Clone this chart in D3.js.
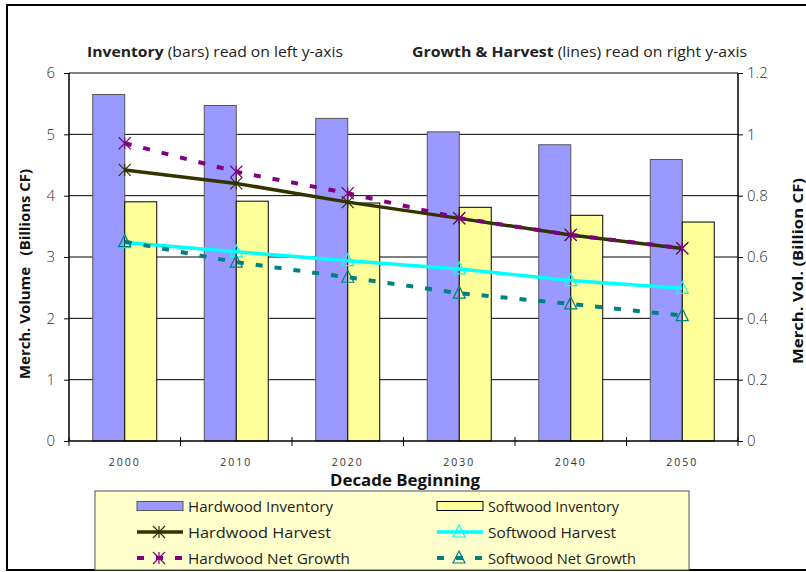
<!DOCTYPE html>
<html>
<head>
<meta charset="utf-8">
<script src="https://cdnjs.cloudflare.com/ajax/libs/d3/7.8.5/d3.min.js"></script>
<style>
  body { margin: 0; background: #fff; }
  svg text { font-family: "Open Sans", "DejaVu Sans", sans-serif; white-space: pre; }
</style>
</head>
<body>
<svg id="chart" width="806" height="572"></svg>
<script>
// decades on the x axis
var decades = ["2000", "2010", "2020", "2030", "2040", "2050"];

// inventory, left axis (billions CF)
var hardwoodInventory = [5.65, 5.47, 5.26, 5.04, 4.83, 4.59];
var softwoodInventory = [3.90, 3.91, 3.88, 3.81, 3.68, 3.57];

// growth & harvest, right axis (billion CF)
var hardwoodHarvest   = [0.884, 0.840, 0.779, 0.726, 0.672, 0.628];
var hardwoodGrowth    = [0.971, 0.878, 0.808, 0.727, 0.672, 0.629];
var softwoodHarvest   = [0.647, 0.617, 0.588, 0.561, 0.523, 0.498];
var softwoodGrowth    = [0.650, 0.583, 0.534, 0.482, 0.447, 0.409];

var leftTicks  = [0, 1, 2, 3, 4, 5, 6];
var rightTicks = [0, 0.2, 0.4, 0.6, 0.8, 1, 1.2];

var svg = d3.select("#chart");

// outer frame
svg.append("rect")
  .attr("x", 7).attr("y", 5)
  .attr("width", 820).attr("height", 565)
  .attr("fill", "none").attr("stroke", "#000").attr("stroke-width", 2);

// plot box (note: "top" is reserved on window, so prefix these)
var pLeft = 69, pRight = 738, pTop = 73, pBottom = 441;

var x = d3.scaleBand().domain(decades).range([pLeft, pRight]).padding(0);
var xSub = d3.scaleBand().domain(["hw", "sw"]).range([-32, 32]);
var yL = d3.scaleLinear().domain([0, 6]).range([pBottom, pTop]);
var yR = d3.scaleLinear().domain([0, 1.2]).range([pBottom, pTop]);

// gridlines
svg.append("g").selectAll("line")
  .data(leftTicks.slice(1))
  .enter().append("line")
  .attr("x1", pLeft).attr("x2", pRight)
  .attr("y1", d => yL(d)).attr("y2", d => yL(d))
  .attr("stroke", "#000").attr("stroke-width", 1);

// bars
var bars = svg.append("g");
bars.selectAll(".hw")
  .data(hardwoodInventory)
  .enter().append("rect")
  .attr("x", (d, i) => x(decades[i]) + x.bandwidth() / 2 + xSub("hw"))
  .attr("width", xSub.bandwidth())
  .attr("y", d => yL(d))
  .attr("height", d => pBottom - yL(d))
  .attr("fill", "#9999FF").attr("stroke", "#555").attr("stroke-width", 1);
bars.selectAll(".sw")
  .data(softwoodInventory)
  .enter().append("rect")
  .attr("x", (d, i) => x(decades[i]) + x.bandwidth() / 2 + xSub("sw"))
  .attr("width", xSub.bandwidth())
  .attr("y", d => yL(d))
  .attr("height", d => pBottom - yL(d))
  .attr("fill", "#FFFF99").attr("stroke", "#000").attr("stroke-width", 1);

// left axis
var axL = svg.append("g").attr("transform", "translate(" + pLeft + ",0)")
  .call(d3.axisLeft(yL).tickValues(leftTicks).tickSize(5).tickPadding(9)
        .tickFormat(d3.format("~g")));
// right axis
var axR = svg.append("g").attr("transform", "translate(" + pRight + ",0)")
  .call(d3.axisRight(yR).tickValues(rightTicks).tickSize(5).tickPadding(4)
        .tickFormat(d3.format("~g")));
[axL, axR].forEach(function(ax) {
  ax.select(".domain").attr("stroke", "#000").attr("stroke-width", 1.5)
    .attr("d", "M0," + pTop + "V" + pBottom);
  ax.selectAll("text").attr("font-size", 15).attr("font-weight", 300).attr("fill", "#333");
});

// x axis
var xAx = svg.append("g");
xAx.append("line")
  .attr("x1", pLeft).attr("x2", pRight).attr("y1", pBottom).attr("y2", pBottom)
  .attr("stroke", "#000").attr("stroke-width", 1.5);
var boundaries = decades.map(d => x(d)).concat([pRight]);
xAx.selectAll(".tk")
  .data(boundaries)
  .enter().append("line")
  .attr("x1", d => d).attr("x2", d => d)
  .attr("y1", pBottom - 4).attr("y2", pBottom + 5)
  .attr("stroke", "#000");
xAx.selectAll(".lbl")
  .data(decades)
  .enter().append("text")
  .attr("x", d => x(d) + x.bandwidth() / 2)
  .attr("y", 466)
  .attr("text-anchor", "middle")
  .attr("font-size", 10.5)
  .attr("letter-spacing", 2)
  .attr("fill", "#333")
  .text(d => d);

// lines
function cx(i) { return x(decades[i]) + x.bandwidth() / 2; }

function drawMarker(g, px, py, color, marker) {
  var s = 6;
  if (marker === "star") {
    g.append("path")
      .attr("d", "M" + (px - s) + "," + (py - s) + "L" + (px + s) + "," + (py + s) +
                 "M" + (px - s) + "," + (py + s) + "L" + (px + s) + "," + (py - s) +
                 "M" + px + "," + (py - s) + "L" + px + "," + (py + s))
      .attr("stroke", color).attr("stroke-width", 1.2).attr("fill", "none");
  } else {
    g.append("path")
      .attr("d", "M" + px + "," + (py - s - 1) + "L" + (px + s) + "," + (py + s - 1) +
                 "L" + (px - s) + "," + (py + s - 1) + "Z")
      .attr("stroke", color).attr("stroke-width", 1.2).attr("fill", "none");
  }
}

function drawSeries(values, color, width, dash, marker) {
  var line = d3.line().x((d, i) => cx(i)).y(d => yR(d));
  svg.append("path")
    .datum(values)
    .attr("d", line)
    .attr("fill", "none")
    .attr("stroke", color)
    .attr("stroke-width", width)
    .attr("stroke-dasharray", dash);
  var g = svg.append("g");
  values.forEach(function(v, i) {
    drawMarker(g, cx(i), yR(v), color, marker);
  });
}

drawSeries(hardwoodHarvest, "#333300", 3.5, null, "star");
drawSeries(hardwoodGrowth, "#800080", 4, "7,12", "star");
drawSeries(softwoodHarvest, "#00FFFF", 3.5, null, "tri");
drawSeries(softwoodGrowth, "#008080", 4, "7,12", "tri");

// top titles
var t1 = svg.append("text").attr("x", 87).attr("y", 57)
  .attr("font-size", 15).attr("fill", "#222")
  .attr("textLength", 256).attr("lengthAdjust", "spacingAndGlyphs");
t1.append("tspan").attr("font-weight", "bold").text("Inventory");
t1.append("tspan").text(" (bars) read on left y-axis");

var t2 = svg.append("text").attr("x", 412).attr("y", 57)
  .attr("font-size", 15).attr("fill", "#222")
  .attr("textLength", 335).attr("lengthAdjust", "spacingAndGlyphs");
t2.append("tspan").attr("font-weight", "bold").text("Growth & Harvest");
t2.append("tspan").text(" (lines) read on right y-axis");

// axis titles
svg.append("text")
  .attr("transform", "translate(30,274) rotate(-90)")
  .attr("text-anchor", "middle")
  .attr("font-size", 15).attr("font-weight", "bold").attr("fill", "#111")
  .attr("textLength", 210).attr("lengthAdjust", "spacingAndGlyphs")
  .text("Merch. Volume   (Billions CF)");

svg.append("text")
  .attr("transform", "translate(803,271) rotate(-90)")
  .attr("text-anchor", "middle")
  .attr("font-size", 15).attr("font-weight", "bold").attr("fill", "#111")
  .attr("textLength", 186).attr("lengthAdjust", "spacingAndGlyphs")
  .text("Merch. Vol. (Billion CF)");

svg.append("text")
  .attr("x", 405).attr("y", 486)
  .attr("text-anchor", "middle")
  .attr("font-size", 16).attr("font-weight", "bold").attr("fill", "#111")
  .attr("textLength", 150).attr("lengthAdjust", "spacingAndGlyphs")
  .text("Decade Beginning");

// legend
var legendNames = ["Hardwood Inventory", "Softwood Inventory",
                   "Hardwood Harvest", "Softwood Harvest",
                   "Hardwood Net Growth", "Softwood Net Growth"];
var legendWidths = [145, 131, 143, 128, 162, 148];

var lg = svg.append("g");
lg.append("rect")
  .attr("x", 95).attr("y", 491).attr("width", 594).attr("height", 79)
  .attr("fill", "#FFFFCC").attr("stroke", "#555").attr("stroke-width", 1);

var colX = [137, 437];
var rowY = [506, 532, 558];

legendNames.forEach(function(name, i) {
  var c = i % 2, r = Math.floor(i / 2);
  var sx = colX[c], sy = rowY[r];
  if (r === 0) {
    lg.append("rect")
      .attr("x", sx).attr("y", sy - 4.5).attr("width", 46).attr("height", 9)
      .attr("fill", c === 0 ? "#9999FF" : "#FFFF99")
      .attr("stroke", c === 0 ? "#555" : "#000");
  } else {
    var color = r === 1 ? (c === 0 ? "#333300" : "#00FFFF") : (c === 0 ? "#800080" : "#008080");
    lg.append("line")
      .attr("x1", sx).attr("x2", sx + 46).attr("y1", sy).attr("y2", sy)
      .attr("stroke", color)
      .attr("stroke-width", r === 1 ? 3.5 : 4)
      .attr("stroke-dasharray", r === 2 ? "7,12" : null);
    drawMarker(lg, sx + 22, sy, color, c === 0 ? "star" : "tri");
  }
  lg.append("text")
    .attr("x", sx + 51).attr("y", sy + 5.5)
    .attr("font-size", 15).attr("fill", "#222")
    .attr("textLength", legendWidths[i]).attr("lengthAdjust", "spacingAndGlyphs")
    .text(name);
});
</script>
</body>
</html>
